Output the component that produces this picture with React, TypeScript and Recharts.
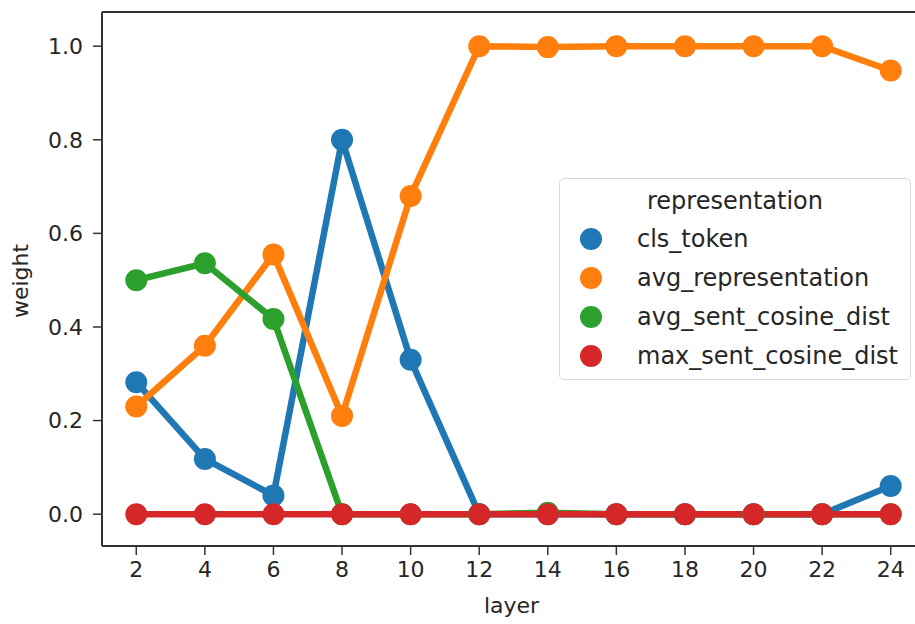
import { LineChart, Line, XAxis, YAxis, Label, ReferenceLine } from "recharts";

// transformer layers on the x axis
const layers = [2, 4, 6, 8, 10, 12, 14, 16, 18, 20, 22, 24];

// learned weight per representation type
const clsToken = [0.282, 0.118, 0.04, 0.8, 0.33, 0, 0, 0, 0, 0, 0, 0.06];
const avgRepresentation = [0.23, 0.36, 0.555, 0.21, 0.68, 1.0, 0.998, 1.0, 1.0, 1.0, 1.0, 0.948];
const avgSentCosineDist = [0.5, 0.536, 0.417, 0, 0, 0, 0.003, 0, 0, 0, 0, 0];
const maxSentCosineDist = [0, 0, 0, 0, 0, 0, 0, 0, 0, 0, 0, 0];

const yTicks = [0, 0.2, 0.4, 0.6, 0.8, 1.0];
const yMin = -0.068;
const yMax = 1.073;

const series = [
  { key: "cls_token", color: "#1f77b4", values: clsToken },
  { key: "avg_representation", color: "#ff7f0e", values: avgRepresentation },
  { key: "avg_sent_cosine_dist", color: "#2ca02c", values: avgSentCosineDist },
  { key: "max_sent_cosine_dist", color: "#d62728", values: maxSentCosineDist },
];

const data = layers.map((layer, i) => {
  const row: Record<string, number> = { layer };
  series.forEach((s) => {
    row[s.key] = s.values[i];
  });
  return row;
});

const FONT = "'DejaVu Sans', sans-serif";
const TEXT = "#262626";
const SPINE = "#333333";

function LegendBox() {
  return (
    <div
      style={{
        position: "absolute",
        left: 559,
        top: 178,
        width: 352,
        height: 202,
        boxSizing: "border-box",
        border: "1.5px solid #d8d8d8",
        borderRadius: 5,
        background: "rgba(255,255,255,0.8)",
        fontFamily: FONT,
        fontSize: 24,
        color: TEXT,
      }}
    >
      <div style={{ position: "absolute", top: 7, left: 0, width: "100%", textAlign: "center", lineHeight: "30px" }}>
        representation
      </div>
      {series.map((s, i) => (
        <div
          key={s.key}
          style={{ position: "absolute", left: 20, top: 45 + i * 39, height: 30, display: "flex", alignItems: "center" }}
        >
          <span style={{ width: 22, height: 22, borderRadius: 11, background: s.color, display: "inline-block" }} />
          <span style={{ marginLeft: 35, lineHeight: "30px", whiteSpace: "nowrap" }}>{s.key}</span>
        </div>
      ))}
    </div>
  );
}

export default function App() {
  return (
    <div style={{ position: "absolute", left: 0, top: 0, width: 915, height: 624, overflow: "hidden", background: "#fff" }}>
      <LineChart width={940} height={624} data={data} margin={{ top: 12, right: 15, bottom: 18, left: 12 }}>
        <XAxis
          dataKey="layer"
          type="number"
          domain={[1, 25]}
          ticks={layers}
          interval={0}
          height={60}
          tickSize={9}
          tickMargin={6}
          axisLine={{ stroke: SPINE, strokeWidth: 2 }}
          tickLine={{ stroke: SPINE, strokeWidth: 1.5 }}
          tick={{ fill: TEXT, fontSize: 22, fontFamily: FONT }}
        >
          <Label
            content={({ viewBox }: any) => (
              <text
                x={viewBox.x + viewBox.width / 2 - 2}
                y={viewBox.y + 59}
                textAnchor="middle"
                dominantBaseline="central"
                fill={TEXT}
                fontSize={22}
                fontFamily={FONT}
              >
                layer
              </text>
            )}
          />
        </XAxis>
        <YAxis
          type="number"
          domain={[yMin, yMax]}
          ticks={yTicks}
          allowDataOverflow
          width={90}
          tickSize={9}
          tickMargin={10}
          tickFormatter={(v: number) => v.toFixed(1)}
          axisLine={{ stroke: SPINE, strokeWidth: 2 }}
          tickLine={{ stroke: SPINE, strokeWidth: 1.5 }}
          tick={{ fill: TEXT, fontSize: 22, fontFamily: FONT }}
        >
          <Label
            content={({ viewBox }: any) => {
              const x = viewBox.x + 8;
              const y = viewBox.y + viewBox.height / 2 + 2;
              return (
                <text
                  x={x}
                  y={y}
                  transform={`rotate(-90, ${x}, ${y})`}
                  textAnchor="middle"
                  dominantBaseline="central"
                  fill={TEXT}
                  fontSize={22}
                  fontFamily={FONT}
                >
                  weight
                </text>
              );
            }}
          />
        </YAxis>
        {/* top spine */}
        <ReferenceLine y={yMax} stroke={SPINE} strokeWidth={2} />
        {series.map((s) => (
          <Line
            key={s.key}
            dataKey={s.key}
            stroke={s.color}
            strokeWidth={6.5}
            dot={{ r: 11, fill: s.color, stroke: "none" }}
            activeDot={false}
            isAnimationActive={false}
          />
        ))}
      </LineChart>
      <LegendBox />
    </div>
  );
}
